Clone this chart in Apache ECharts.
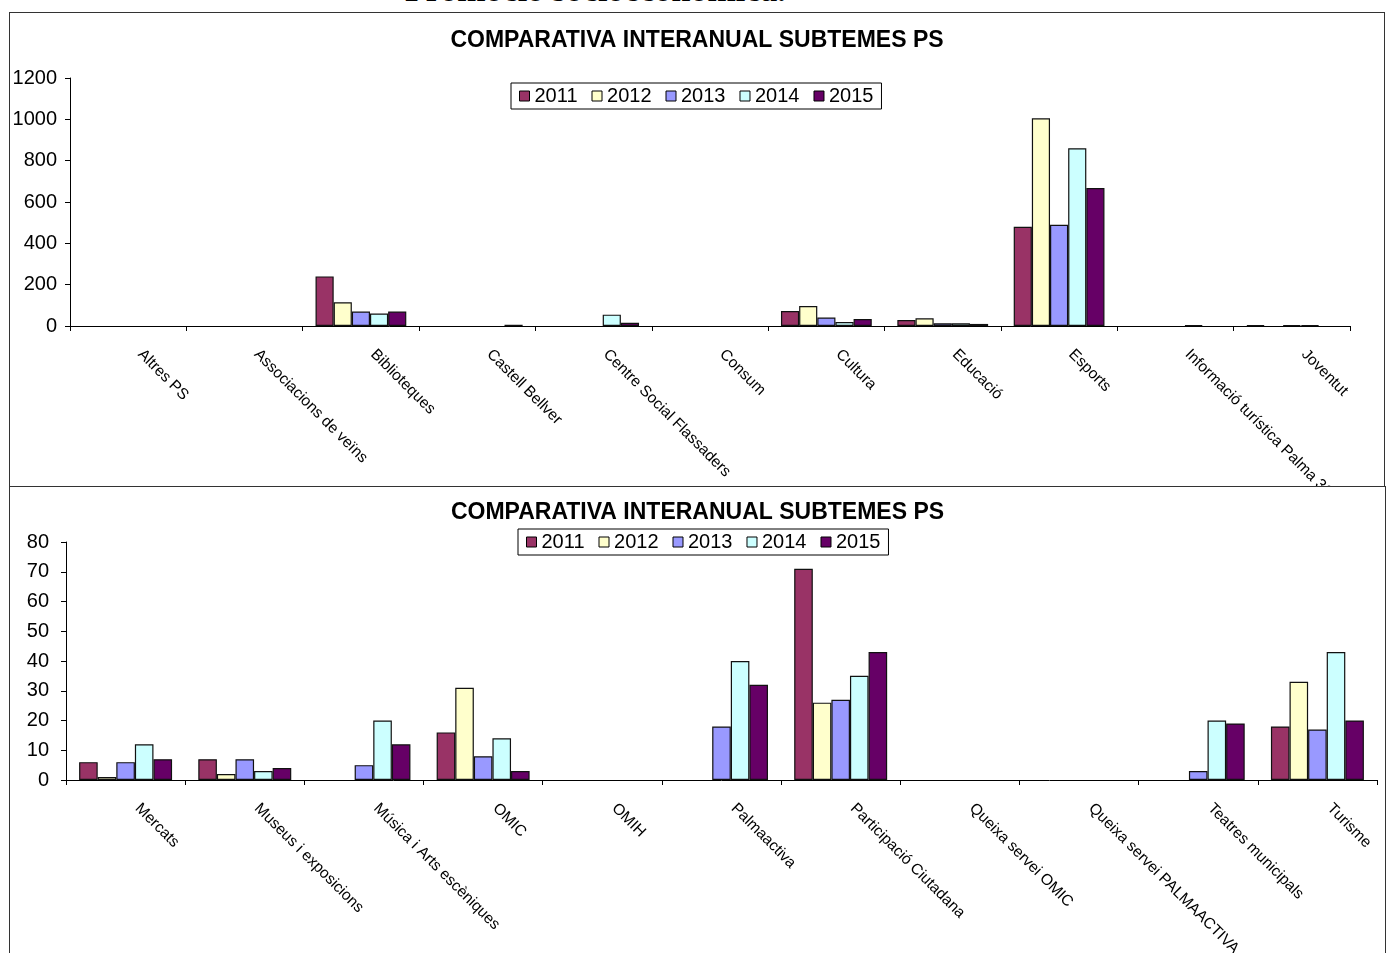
<!DOCTYPE html>
<html>
<head>
<meta charset="utf-8">
<script src="https://cdn.jsdelivr.net/npm/echarts@6/dist/echarts.min.js"></script>
<style>
  html, body { margin: 0; padding: 0; background: #fff; width: 1390px; height: 953px; overflow: hidden; }
  .heading { position: absolute; left: 405px; top: -27px; font: bold 34px/34px "Liberation Serif", serif; color: #000; white-space: nowrap; }
  .frame { position: absolute; box-sizing: border-box; border: 1.5px solid #333; background: #fff; }
  #top { left: 9px; top: 12px; width: 1376px; height: 476px; }
  #bottom { left: 9px; top: 486px; width: 1377px; height: 480px; }
</style>
</head>
<body>
<div class="heading">Promoció socioeconòmica.</div>
<div id="top" class="frame"></div>
<div id="bottom" class="frame"></div>
<script>
// Subtopic categories and yearly counts
const years = ['2011', '2012', '2013', '2014', '2015'];
const yearColors = ['#993366', '#FFFFCC', '#9999FF', '#CCFFFF', '#660066'];

const topCategories = ['Altres PS', 'Associacions de veïns', 'Biblioteques', 'Castell Bellver',
  'Centre Social Flassaders', 'Consum', 'Cultura', 'Educació', 'Esports',
  'Informació turística Palma 365', 'Joventut'];
const top2011 = [0, 0, 240, 0, 0, 0, 72, 29, 480, 0, 4];
const top2012 = [0, 0, 115, 0, 0, 0, 97, 37, 1005, 0, 0];
const top2013 = [0, 0, 70, 0, 0, 0, 41, 13, 490, 0, 4];
const top2014 = [0, 0, 60, 0, 55, 0, 19, 13, 860, 4, 4];
const top2015 = [0, 0, 70, 6, 16, 0, 34, 10, 668, 0, 0];
const topTicks = { min: 0, max: 1200, interval: 200 };

const bottomCategories = ['Mercats', 'Museus i exposicions', 'Música i Arts escèniques', 'OMIC', 'OMIH',
  'Palmaactiva', 'Participació Ciutadana', 'Queixa servei OMIC', 'Queixa servei PALMAACTIVA',
  'Teatres municipals', 'Turisme'];
const bottom2011 = [6, 7, 0, 16, 0, 0, 71, 0, 0, 0, 18];
const bottom2012 = [1, 2, 0, 31, 0, 0, 26, 0, 0, 0, 33];
const bottom2013 = [6, 7, 5, 8, 0, 18, 27, 0, 0, 3, 17];
const bottom2014 = [12, 3, 20, 14, 0, 40, 35, 0, 0, 20, 43];
const bottom2015 = [7, 4, 12, 3, 0, 32, 43, 0, 0, 19, 20];
const bottomTicks = { min: 0, max: 80, interval: 10 };

const chartTitle = 'COMPARATIVA INTERANUAL SUBTEMES PS';
const FONT = '"Liberation Sans", Arial, sans-serif';

function buildOption(categories, seriesValues, ticks, layout) {
  return {
    animation: false,
    title: {
      text: chartTitle, left: 'center', top: layout.titleTop,
      textStyle: { fontFamily: FONT, fontWeight: 'bold', fontSize: 23, color: '#000' }
    },
    legend: {
      data: years, left: layout.legendLeft, top: layout.legendTop,
      itemWidth: 10, itemHeight: 10, itemGap: 14,
      padding: [3, 8], borderColor: '#000', borderWidth: 1,
      icon: 'rect',
      itemStyle: { borderColor: '#000', borderWidth: 1 },
      textStyle: { fontFamily: FONT, fontSize: 20, color: '#000' }
    },
    grid: Object.assign({ outerBoundsMode: 'none', containLabel: false }, layout.grid),
    xAxis: {
      type: 'category', data: categories, boundaryGap: true,
      axisLine: { lineStyle: { color: '#000', width: 1 } },
      axisTick: { show: true, inside: false, length: 5, alignWithLabel: false, lineStyle: { color: '#000' } },
      axisLabel: {
        rotate: -45, interval: 0, margin: layout.labelMargin, padding: [0, 0, 0, 17],
        fontFamily: FONT, fontSize: 15.5, color: '#000'
      }
    },
    yAxis: {
      type: 'value', min: ticks.min, max: ticks.max, interval: ticks.interval,
      axisLine: { show: true, lineStyle: { color: '#000', width: 1 } },
      axisTick: { show: true, length: 5, lineStyle: { color: '#000' } },
      splitLine: { show: false },
      axisLabel: { margin: layout.yMargin, formatter: v => String(v), fontFamily: FONT, fontSize: 20, color: '#000' }
    },
    series: years.map((y, i) => ({
      name: y, type: 'bar',
      // empty counts draw no bar at all
      data: seriesValues[i].map(v => (v === 0 ? '-' : v)),
      barGap: '0%', barCategoryGap: '22%',
      itemStyle: { color: yearColors[i], borderColor: '#111', borderWidth: 1.2 }
    }))
  };
}

const topChart = echarts.init(document.getElementById('top'), null, { renderer: 'canvas' });
topChart.setOption(buildOption(topCategories, [top2011, top2012, top2013, top2014, top2015], topTicks, {
  titleTop: 11, legendTop: 70, legendLeft: 501, labelMargin: 14, yMargin: 13,
  grid: { left: 60, top: 65, width: 1280, height: 248 }
}));

const bottomChart = echarts.init(document.getElementById('bottom'), null, { renderer: 'canvas' });
bottomChart.setOption(buildOption(bottomCategories, [bottom2011, bottom2012, bottom2013, bottom2014, bottom2015], bottomTicks, {
  titleTop: 9, legendTop: 42, legendLeft: 508, labelMargin: 14, yMargin: 17,
  grid: { left: 56, top: 55, width: 1311, height: 238 }
}));
</script>
</body>
</html>
